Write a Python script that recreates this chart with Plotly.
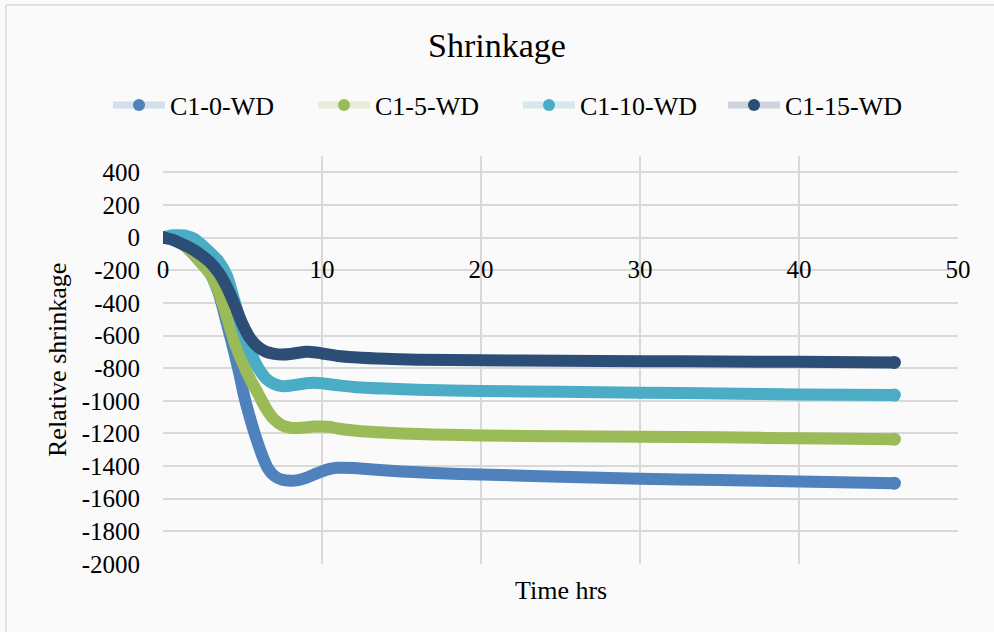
import plotly.graph_objects as go

# ---------------- data ----------------
series_names = ["C1-0-WD", "C1-5-WD", "C1-10-WD", "C1-15-WD"]

t_c0 = [0, 0.5, 1, 1.5, 2, 2.5, 3, 3.5, 4, 4.5, 4.84, 5.1, 5.4, 5.7, 6.0, 6.3, 6.6, 7, 7.5, 8,
        8.5, 9, 9.5, 10, 10.5, 11, 12, 13, 15, 17, 20, 25, 30, 35, 40, 46]
v_c0 = [0, -5, -25, -60, -110, -165, -225, -340, -520, -710, -850, -970, -1080, -1180, -1270,
        -1350, -1415, -1460, -1484, -1490, -1486, -1472, -1452, -1432, -1417, -1410, -1412,
        -1420, -1433, -1442, -1452, -1465, -1477, -1486, -1494, -1505]

t_c5 = [0, 0.5, 1, 1.5, 2, 2.5, 3, 3.5, 4, 4.5, 5, 5.5, 6, 6.5, 7, 7.5, 8, 8.5, 9, 9.5, 10,
        10.5, 11, 12, 13, 15, 17, 20, 25, 30, 35, 40, 46]
v_c5 = [0, -5, -25, -60, -110, -165, -225, -330, -480, -640, -765, -870, -960, -1050, -1115,
        -1150, -1165, -1167, -1163, -1158, -1157, -1160, -1170, -1182, -1190, -1200, -1206,
        -1212, -1217, -1220, -1224, -1230, -1235]

t_c10 = [0, 0.5, 1, 1.5, 2, 2.5, 3, 3.5, 4, 4.5, 5, 5.5, 6, 6.5, 7, 7.5, 8, 8.5, 9, 9.5, 10,
         11, 12, 14, 16, 20, 25, 30, 35, 40, 46]
v_c10 = [0, 14, 14, 10, -10, -50, -95, -145, -230, -390, -565, -700, -800, -865, -897, -910,
         -908, -900, -893, -890, -893, -905, -915, -925, -932, -940, -945, -950, -955, -962, -965]

t_c15 = [0, 0.5, 1, 1.5, 2, 2.5, 3, 3.5, 4, 4.5, 5, 5.5, 6, 6.5, 7, 7.5, 8, 8.5, 9, 9.5, 10,
         11, 12, 14, 16, 20, 25, 30, 35, 40, 46]
v_c15 = [0, -10, -30, -52, -80, -115, -155, -215, -300, -410, -530, -620, -672, -700, -712,
         -716, -713, -706, -700, -702, -710, -725, -733, -743, -748, -752, -755, -757, -759,
         -761, -765]

x_ticks = [0, 10, 20, 30, 40, 50]
y_ticks = list(range(-2000, 401, 200))
y_tick_text = [str(v) for v in y_ticks]   # plain hyphen, as in the reference
x_tick_text = [str(v) for v in x_ticks]

series_t = [t_c0, t_c5, t_c10, t_c15]
series_v = [v_c0, v_c5, v_c10, v_c15]

colors = ["#4F81BD", "#9BBB59", "#4BACC6", "#2C4D75"]
pale = ["rgba(79,129,189,0.22)", "rgba(155,187,89,0.22)", "rgba(75,172,198,0.22)",
        "rgba(44,77,117,0.22)"]

FONT = "Liberation Serif, Times New Roman, serif"

fig = go.Figure()
for name, t, v, c, p in zip(series_names, series_t, series_v, colors, pale):
    n = len(t)
    sizes = [13] + [0] * (n - 2) + [13]
    fig.add_trace(go.Scatter(
        x=t, y=v, mode="lines+markers", name=name, showlegend=False,
        line=dict(color=c, width=12, shape="spline", smoothing=0.8),
        marker=dict(color=c, size=sizes, opacity=1, line=dict(width=0)),
        hoverinfo="skip"))
    # legend entry (pale line with solid marker, as in the reference)
    fig.add_trace(go.Scatter(
        x=[None], y=[None], mode="lines+markers", name=name,
        line=dict(color=p, width=7),
        marker=dict(color=c, size=12, line=dict(width=0))))

fig.update_layout(
    width=994, height=632,
    margin=dict(l=163, r=36, t=156, b=68),
    paper_bgcolor="#fafafa",
    plot_bgcolor="rgba(0,0,0,0)",
    font=dict(family=FONT, size=25, color="#000000"),
    title=dict(text="Shrinkage", x=0.5, xref="container", xanchor="center",
               y=1 - 45 / 632, yref="container", yanchor="middle",
               font=dict(family=FONT, size=34, color="#000000")),
    legend=dict(orientation="h", x=(108 - 163) / 795, xanchor="left",
                y=(564 - 105) / 408, yanchor="middle",
                font=dict(family=FONT, size=26, color="#000000"),
                itemwidth=52, entrywidth=138, bgcolor="rgba(0,0,0,0)"),
    xaxis=dict(range=[0, 50], tickvals=x_ticks, ticktext=x_tick_text, showgrid=True,
               gridcolor="#d9d9d9", gridwidth=1.5, zeroline=False, showline=False,
               anchor="free", position=0.8, ticks="", ticklabelstandoff=14,
               tickfont=dict(family=FONT, size=25, color="#000000")),
    yaxis=dict(range=[-2000, 500], tickvals=y_ticks, ticktext=y_tick_text, showgrid=True,
               gridcolor="#d9d9d9", gridwidth=1.5, zeroline=False, showline=False,
               ticks="", ticklabelstandoff=22,
               tickfont=dict(family=FONT, size=25, color="#000000")),
    annotations=[
        dict(text="Time hrs", xref="paper", yref="paper", x=0.5, y=(564 - 590) / 408,
             xanchor="center", yanchor="middle", showarrow=False,
             font=dict(family=FONT, size=26, color="#000000")),
        dict(text="Relative shrinkage", xref="paper", yref="paper",
             x=(57 - 163) / 795, y=0.5, textangle=-90, xanchor="center",
             yanchor="middle", showarrow=False,
             font=dict(family=FONT, size=26, color="#000000")),
    ],
    shapes=[
        dict(type="line", xref="paper", yref="paper", x0=(6 - 163) / 795,
             x1=(1000 - 163) / 795, y0=(564 - 5) / 408, y1=(564 - 5) / 408,
             line=dict(color="#d9d9d9", width=1.5)),
        dict(type="line", xref="paper", yref="paper", x0=(6 - 163) / 795,
             x1=(6 - 163) / 795, y0=(564 - 5) / 408, y1=(564 - 640) / 408,
             line=dict(color="#d9d9d9", width=1.5)),
    ],
)

fig.write_html("out.html")
